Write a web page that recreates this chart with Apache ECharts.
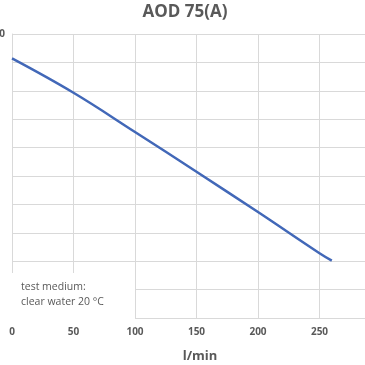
<!DOCTYPE html>
<html>
<head>
<meta charset="utf-8">
<script src="https://cdn.jsdelivr.net/npm/echarts@6/dist/echarts.min.js"></script>
<style>html,body{margin:0;padding:0;background:#fff}#c{width:365px;height:365px}</style>
</head>
<body>
<div id="c"></div>
<script>
const title = 'AOD 75(A)';
const xName = 'l/min';
const flow = [0, 50, 100, 150, 200, 250, 260];
const head = [9.14, 7.93, 6.55, 5.15, 3.73, 2.28, 2.02];
const noteLines = ['test medium:', 'clear water 20 °C'];

const chart = echarts.init(document.getElementById('c'), null, {renderer: 'canvas'});
const gray = '#595959';
const gridColor = '#d9d9d9';
chart.setOption({
  animation: false,
  title: {
    text: title, left: 180, top: -1, textAlign: 'center',
    textStyle: {fontFamily: 'Open Sans', fontWeight: 'bold', fontSize: 17, color: gray}
  },
  grid: {left: 12, top: 34, width: 369, height: 284, containLabel: false, outerBoundsMode: 'none'},
  xAxis: {
    type: 'value', min: 0, max: 300, interval: 50,
    name: xName, nameLocation: 'middle', nameGap: 32,
    nameTextStyle: {fontFamily: 'Open Sans', fontWeight: 'bold', fontSize: 13, color: gray, padding: [0, 0, 0, 7]},
    axisLine: {show: true, lineStyle: {color: gridColor}},
    axisTick: {show: false},
    axisLabel: {fontFamily: 'Open Sans', fontWeight: 'bold', fontSize: 10, color: gray, margin: 9},
    splitLine: {show: true, lineStyle: {color: gridColor, width: 1}}
  },
  yAxis: {
    type: 'value', min: 0, max: 10, interval: 1,
    axisLine: {show: true, lineStyle: {color: gridColor}},
    axisTick: {show: false},
    axisLabel: {
      fontFamily: 'Open Sans', fontWeight: 'bold', fontSize: 10, color: gray, margin: 7,
      formatter: v => (v === 10 ? String(v) : '')
    },
    splitLine: {show: true, lineStyle: {color: gridColor, width: 1}}
  },
  series: [{
    type: 'line',
    data: flow.map((x, i) => [x, head[i]]),
    smooth: 0.4,
    showSymbol: false,
    lineStyle: {color: '#4268b8', width: 2.5},
    itemStyle: {color: '#4268b8'}
  }],
  graphic: [
    {type: 'rect', left: 0, top: 273, shape: {width: 135, height: 46}, style: {fill: '#fff'}, z: 100},
    {type: 'text', left: 21, top: 280, z: 101,
     style: {text: noteLines.join('\n'), fill: gray, font: '10.5px "Open Sans"', lineHeight: 15}}
  ]
});
</script>
</body>
</html>
